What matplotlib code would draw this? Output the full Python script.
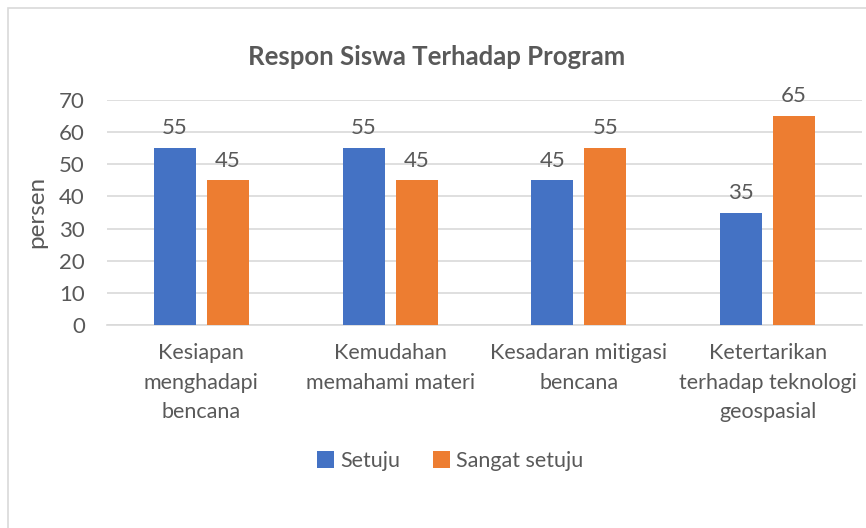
import matplotlib
matplotlib.use("Agg")
import matplotlib.pyplot as plt
from matplotlib.patches import Rectangle
import numpy as np

categories = ["Kesiapan\nmenghadapi\nbencana", "Kemudahan\nmemahami materi",
              "Kesadaran mitigasi\nbencana", "Ketertarikan\nterhadap teknologi\ngeospasial"]
setuju = [55, 55, 45, 35]
sangat_setuju = [45, 45, 55, 65]
yticks = [0, 10, 20, 30, 40, 50, 60, 70]

plt.rcParams['font.family'] = ['Lato', 'DejaVu Sans']
TXT = '#595959'
GRID = '#D9D9D9'
W, H = 866, 528
fig = plt.figure(figsize=(W/100, H/100), dpi=100)
fig.patch.set_facecolor('white')
fig.patches.append(Rectangle((8/W, -0.1), (W+20)/W, (H-8)/H + 0.1, transform=fig.transFigure,
                             fill=False, edgecolor=GRID, linewidth=1.2))

ax = fig.add_axes([107/W, 1-325/H, (862-107)/W, 225/H])
x = np.arange(len(categories))
bw = 0.222
off = 0.14
b1 = ax.bar(x - off, setuju, bw, color='#4472C4', label='Setuju', zorder=3)
b2 = ax.bar(x + off, sangat_setuju, bw, color='#ED7D31', label='Sangat setuju', zorder=3)
for bars in (b1, b2):
    ax.bar_label(bars, padding=7, fontsize=16, color=TXT)

ax.set_xlim(-0.5, len(categories) - 0.5)
ax.set_ylim(0, 70)
ax.set_yticks(yticks)
ax.set_yticklabels([str(v) for v in yticks], fontsize=16, color=TXT)
ax.set_xticks(x)
ax.set_xticklabels(categories, fontsize=15.5, color=TXT, linespacing=1.6)
ax.tick_params(axis='both', length=0)
ax.tick_params(axis='y', pad=16)
ax.tick_params(axis='x', pad=13)
ax.grid(axis='y', color=GRID, linewidth=1.2, zorder=0)
for s in ['top', 'right', 'left']:
    ax.spines[s].set_visible(False)
ax.spines['bottom'].set_color(GRID)
ax.spines['bottom'].set_linewidth(1.2)

fig.text(37/W, 1-212/H, 'persen', rotation=90, ha='center', va='center', fontsize=17.5, color=TXT)
fig.text(437/W, 1-57/H, 'Respon Siswa Terhadap Program', ha='center', va='center',
         fontsize=18.5, fontweight='bold', color=TXT)

fig.legend(handles=[b1, b2], loc='center', bbox_to_anchor=(450/W, 1-461/H), ncol=2,
           frameon=False, fontsize=15.5, labelcolor=TXT, handlelength=0.8, handleheight=0.8,
           handletextpad=0.3, columnspacing=1.5)

fig.savefig('out.png', dpi=100)
